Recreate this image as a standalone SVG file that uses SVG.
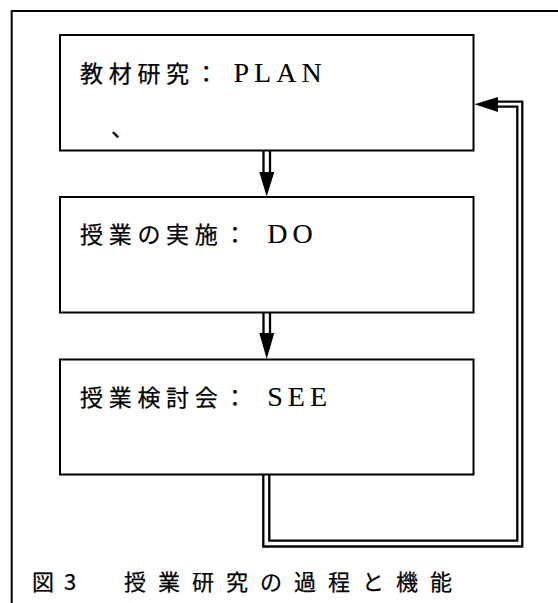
<svg xmlns="http://www.w3.org/2000/svg" width="558" height="603" viewBox="0 0 558 603">
<style>
.box{fill:#fff;stroke:#000;stroke-width:2}
.ln{fill:none;stroke:#000;stroke-width:2.3}
.lbl{font-family:"Noto Sans CJK JP","Noto Sans",sans-serif;font-size:23px;letter-spacing:5.7px;fill:#000;stroke:#000;stroke-width:0.25}
.lat{font-family:"Liberation Serif",serif;font-size:28px;letter-spacing:5px;stroke-width:0.1}
.cap{font-family:"Noto Sans CJK JP","Noto Sans",sans-serif;font-size:22px;letter-spacing:12px;fill:#000;stroke:#000;stroke-width:0.25}
</style>
<rect width="558" height="603" fill="#fff"/>
<path d="M11.7,603 V11 H558" fill="none" stroke="#000" stroke-width="2"/>
<g id="connectors">
<path class="ln" d="M263.5,151 V173 M270,151 V173"/>
<polygon points="259.3,172 274.3,172 266.7,196.5" fill="#000"/>
<path class="ln" d="M263.5,313 V334 M270,313 V334"/>
<polygon points="259.3,333 274.3,333 266.7,359" fill="#000"/>
<path class="ln" d="M263.3,475 V546.5 H522.3 V101.7 H497"/>
<path class="ln" d="M269.3,475 V540.7 H517.3 V106.7 H497"/>
<polygon points="474.5,104.2 498,97 498,112" fill="#000"/>
</g>
<g id="plan">
<rect class="box" x="60" y="35" width="413.5" height="115.5"/>
<text class="lbl" x="80" y="82">教材研究：<tspan class="lat" dx="10">PLAN</tspan></text>
<text class="lbl" x="111" y="136">、</text>
</g>
<g id="do">
<rect class="box" x="60" y="197" width="413.5" height="115.5"/>
<text class="lbl" x="80" y="243">授業の実施：<tspan class="lat" dx="15">DO</tspan></text>
</g>
<g id="see">
<rect class="box" x="60" y="359.5" width="413.5" height="115"/>
<text class="lbl" x="80" y="406">授業検討会：<tspan class="lat" dx="15">SEE</tspan></text>
</g>
<g id="caption">
<text class="cap" x="32" y="590"><tspan letter-spacing="0">図 </tspan><tspan x="64">3　</tspan><tspan x="124">授業研究の過程と機能</tspan></text>
</g>
</svg>
